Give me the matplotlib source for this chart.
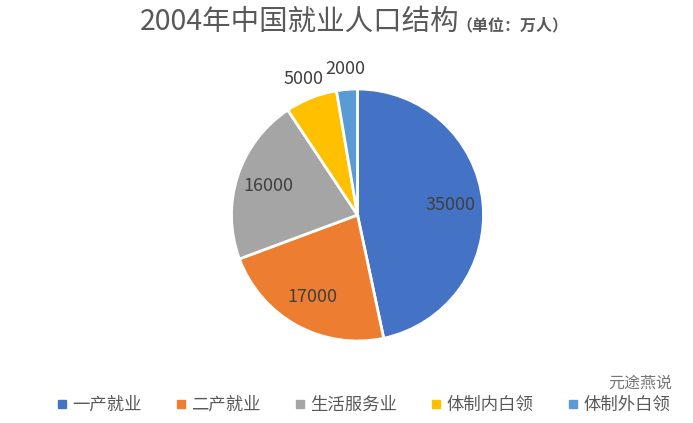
import numpy as np
import matplotlib.pyplot as plt

plt.rcParams['font.family'] = ['Noto Sans CJK SC', 'DejaVu Sans']

categories = ['一产就业', '二产就业', '生活服务业', '体制内白领', '体制外白领']
values = [35000, 17000, 16000, 5000, 2000]
colors = ['#4472C4', '#ED7D31', '#A5A5A5', '#FFC000', '#5B9BD5']

fig = plt.figure(figsize=(6.93, 4.23), dpi=100)
# pie center at ~(357, 215) px, radius ~126 px
size = 300
cx, cy, r = 357.5, 215, 126
ax = fig.add_axes([(cx - size / 2) / 693, 1 - (cy + size / 2) / 423, size / 693, size / 423])
lim = size / 2 / r
wedges, _ = ax.pie(values, colors=colors, startangle=90, counterclock=False,
                   wedgeprops=dict(edgecolor='white', linewidth=2))
ax.set_xlim(-lim, lim)
ax.set_ylim(-lim, lim)
ax.set_aspect('equal')
ax.axis('off')

for w, v in zip(wedges, values):
    mid = np.deg2rad((w.theta1 + w.theta2) / 2)
    frac = v / sum(values)
    d = 0.74 if frac > 0.1 else 1.16
    ax.text(d * np.cos(mid), d * np.sin(mid), str(v), ha='center', va='center',
            fontsize=13, color='#404040')

fig.text(140 / 693, 1 - 22 / 423, '2004年中国就业人口结构', fontsize=20.5,
         color='#595959', ha='left', va='center')
fig.text(456 / 693, 1 - 25 / 423, '（单位：万人）', fontsize=11.5, fontweight='bold',
         color='#595959', ha='left', va='center')

handles = [plt.Line2D([], [], marker='s', linestyle='', markersize=6, color=c) for c in colors]
fig.legend(handles, categories, loc='center', bbox_to_anchor=(0.522, 1 - 405 / 423), ncol=5,
           frameon=False, fontsize=12.5, labelcolor='#595959', handletextpad=0.1,
           columnspacing=1.75, handlelength=1.0)

# watermark
fig.text(640 / 693, 1 - 383 / 423, '元途燕说', fontsize=11.5, color='#555555', alpha=0.8,
         ha='center', va='center')

fig.savefig('out.png', dpi=100)
